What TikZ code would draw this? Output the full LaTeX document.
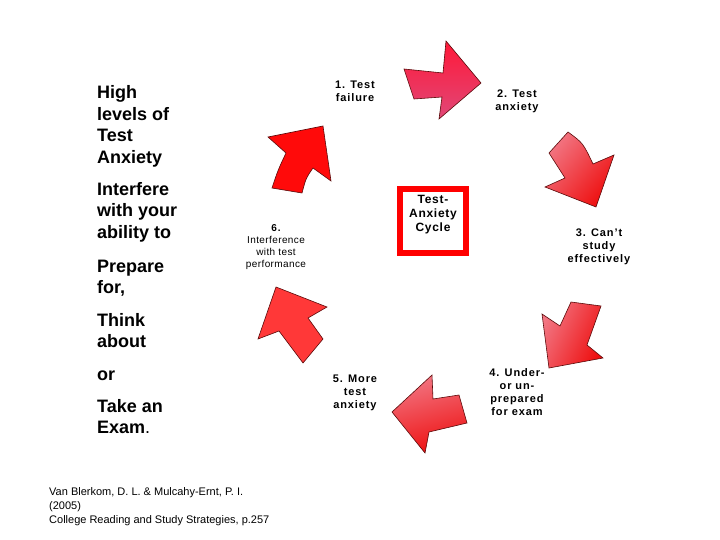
\documentclass[tikz,border=0pt]{standalone}
\usepackage{fontspec}
\setmainfont{Liberation Sans}
\newfontfamily\lblfont[LetterSpace=8]{Liberation Sans}
\newfontfamily\boxfont[LetterSpace=6]{Liberation Sans}
\newfontfamily\smfont[LetterSpace=4]{Liberation Sans}
\definecolor{redA}{HTML}{FF0A0A}
\definecolor{redB}{HTML}{FF3838}
\definecolor{pinkA}{HTML}{FF1838}
\definecolor{pinkB}{HTML}{E04878}
\definecolor{lightR}{HTML}{F27582}
\definecolor{deepR}{HTML}{EE1010}
\definecolor{edge}{HTML}{5A0A0A}
\begin{document}
\begin{tikzpicture}[x=1pt,y=1pt,
  arr/.style={draw=edge, line width=0.6pt, line join=miter},
  lbl/.style={font=\lblfont\bfseries\fontsize{11}{13}\selectfont, align=center, inner sep=0},
  big/.style={font=\bfseries\fontsize{18}{21.5}\selectfont, align=left, anchor=base west, inner sep=0},
  cite/.style={font=\fontsize{11}{14}\selectfont, align=left, anchor=base west, inner sep=0},
  boxst/.style={draw=red, line width=6pt, fill=white, minimum width=66pt, minimum height=64pt, inner sep=0}
]
\useasboundingbox (0,0) rectangle (720,-540);
\fill[white] (0,0) rectangle (720,-540);

% arrow 1 (top, pointing right)
\path[arr, top color=pinkA, bottom color=pinkB]
  (404,-69) -- (443,-73) -- (446,-41) -- (481,-83) -- (439,-119) -- (442,-97) -- (414,-99) -- cycle;
% arrow 2 (right, pointing down-right)
\path[arr, top color=lightR, bottom color=deepR, shading angle=50]
  (568,-132) .. controls (583,-143) .. (593,-164) -- (614,-155) -- (596,-207) -- (545,-187) -- (565,-178) -- (549,-153) -- cycle;
% arrow 3 (lower right, pointing down-left)
\path[arr, top color=lightR, bottom color=deepR, shading angle=65]
  (571,-302) -- (601,-306) -- (587,-345) -- (603,-358) -- (549,-368) -- (542,-314) -- (560,-326) -- cycle;
% arrow 4 (bottom, pointing left)
\path[arr, top color=lightR, bottom color=deepR, shading angle=15]
  (432,-375) -- (433,-399) -- (459,-395) -- (467,-423) -- (429,-432) -- (425,-453) -- (392,-412) -- cycle;
% arrow 5 (left lower, pointing up-left)
\path[arr, fill=redB]
  (276,-287) -- (327,-307) -- (308,-318) -- (323,-339) -- (303,-363) -- (279,-331) -- (258,-339) -- cycle;
% arrow 6 (upper left, pointing up-right)
\path[arr, fill=redA]
  (268,-137) -- (323,-126) -- (331,-181) -- (313,-168) .. controls (306,-178) .. (302,-193) -- (272,-188) .. controls (278,-170) .. (286,-153) -- cycle;

% centre box
\node[boxst] (cyc) at (433,-221) {};
\node[align=center, inner sep=0, font=\boxfont\bfseries\fontsize{12}{14}\selectfont] (cyct) at (433,-215) {Test-\\Anxiety\\Cycle};

% cycle labels
\node[lbl] (l1) at (355,-91.5) {1. Test\\failure};
\node[lbl] (l2) at (517,-101.5) {2. Test\\anxiety};
\node[lbl] (l3) at (599,-247) {3. Can’t\\study\\effectively};
\node[lbl] (l4) at (517,-392) {4. Under-\\or un-\\prepared\\for exam};
\node[lbl] (l5) at (355,-393) {5. More\\test\\anxiety};
\node[align=center, inner sep=0, font=\smfont\fontsize{10}{12}\selectfont] (l6) at (276,-247.5)
  {{\bfseries\lblfont 6.}\\Interference\\with test\\performance};

% left text (anchored at baseline of last line)
\node[big] (t1) at (97,-163.5) {High\\levels of\\Test\\Anxiety};
\node[big] (t2) at (97,-238) {Interfere\\with your\\ability to};
\node[big] (t3) at (97,-293.5) {Prepare\\for,};
\node[big] (t4) at (97,-347.5) {Think\\about};
\node[big] (t5) at (97,-380) {or};
\node[big] (t6) at (97,-433.5) {Take an\\Exam{\mdseries.}};

% citation
\node[cite] (ref) at (49,-523) {Van Blerkom, D. L. \& Mulcahy-Ernt, P. I.\\(2005)\\College Reading and Study Strategies, p.257};
\end{tikzpicture}
\end{document}
